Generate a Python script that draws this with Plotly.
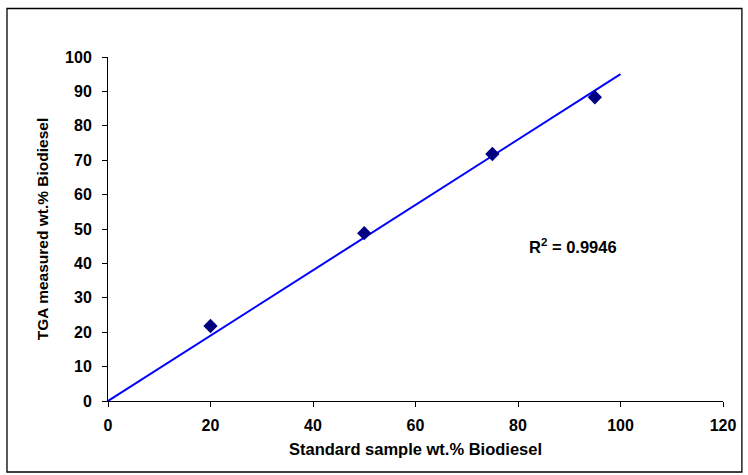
import plotly.graph_objects as go

x_std = [20, 50, 75, 95]
y_tga = [21.8, 48.8, 71.8, 88.3]
trend_x = [0, 100]
slope = 0.95
trend_y = [slope * v for v in trend_x]
r2_text = "R<sup>2</sup> = 0.9946"
x_ticks = [0, 20, 40, 60, 80, 100, 120]
y_ticks = [0, 10, 20, 30, 40, 50, 60, 70, 80, 90, 100]

FONT = "Liberation Sans, Arial, sans-serif"

fig = go.Figure()
fig.add_trace(go.Scatter(x=trend_x, y=trend_y, mode="lines",
                         line=dict(color="#0000FF", width=2), showlegend=False))
fig.add_trace(go.Scatter(x=x_std, y=y_tga, mode="markers",
                         marker=dict(symbol="diamond", color="#000080", size=11,
                                     line=dict(width=0)), showlegend=False))

L, R, T, B = 108, 22, 57, 74
W, H = 748, 475
pw, ph = W - L - R, H - T - B

def px(xp):
    return (xp - L) / pw

def py(yp):
    return (H - B - yp) / ph

fig.add_shape(type="rect", xref="paper", yref="paper",
              x0=px(6.5), x1=px(745), y0=py(472), y1=py(8.5),
              line=dict(color="black", width=1.3), fillcolor="rgba(0,0,0,0)")

fig.add_annotation(x=px(529), y=py(246), xref="paper", yref="paper",
                   text=r2_text, showarrow=False, xanchor="left", yanchor="middle",
                   font=dict(family=FONT, size=16.5, color="black", weight="bold"))

fig.update_xaxes(range=[0, 120], tickvals=x_ticks,
                 ticktext=[f"<b>{v}</b>" for v in x_ticks],
                 showline=True, linecolor="black",
                 linewidth=1, ticks="outside", ticklen=5, tickcolor="black",
                 ticklabelstandoff=5,
                 showgrid=False, zeroline=False,
                 tickfont=dict(family=FONT, size=16, color="black", weight="bold"),
                 title=dict(text="Standard sample wt.% Biodiesel", standoff=10,
                            font=dict(family=FONT, size=16.5, color="black", weight="bold")))
fig.update_yaxes(range=[0, 100], tickvals=y_ticks,
                 ticktext=[f"<b>{v}</b>" for v in y_ticks],
                 showline=True, linecolor="black",
                 linewidth=1, ticks="outside", ticklen=5, tickcolor="black",
                 ticklabelstandoff=7,
                 showgrid=False, zeroline=False,
                 tickfont=dict(family=FONT, size=16, color="black", weight="bold"),
                 title=dict(text="TGA measured wt.% Biodiesel", standoff=12,
                            font=dict(family=FONT, size=15.5, color="black", weight="bold")))

fig.update_layout(width=W, height=H, margin=dict(l=L, r=R, t=T, b=B),
                  paper_bgcolor="white", plot_bgcolor="white")

fig.write_html("out.html")
